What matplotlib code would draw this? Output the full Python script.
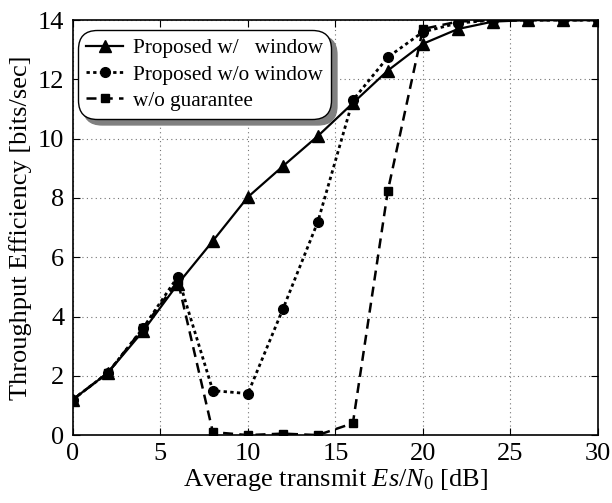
import matplotlib
matplotlib.use("Agg")
import matplotlib.pyplot as plt

snr = [0, 2, 4, 6, 8, 10, 12, 14, 16, 18, 20, 22, 24, 26, 28, 30]
with_window = [1.2, 2.1, 3.5, 5.1, 6.55, 8.03, 9.07, 10.09, 11.2, 12.3, 13.2, 13.7, 13.95, 14.0, 14.0, 14.0]
without_window = [1.2, 2.1, 3.6, 5.35, 1.5, 1.4, 4.25, 7.2, 11.3, 12.75, 13.6, 13.9, 14.0, 14.0, 14.0, 14.0]
no_guarantee = [1.2, 2.1, 3.6, 5.2, 0.1, 0.0, 0.05, 0.0, 0.4, 8.25, 13.7, 13.95, 14.0, 14.0, 14.0, 14.0]
labels = ["Proposed w/   window", "Proposed w/o window", "w/o guarantee"]
xticks = [0, 5, 10, 15, 20, 25, 30]
yticks = [0, 2, 4, 6, 8, 10, 12, 14]

plt.rcParams['font.family'] = ['Liberation Serif', 'DejaVu Serif']
plt.rcParams['mathtext.fontset'] = 'custom'
plt.rcParams['mathtext.rm'] = 'Liberation Serif'
plt.rcParams['mathtext.it'] = 'Liberation Serif:italic'

fig = plt.figure(figsize=(6.12, 5.03), dpi=100)
ax = fig.add_axes([0.119, 0.135, 0.858, 0.825])

ax.plot(snr, with_window, '-', color='black', lw=1.6, marker='^', ms=8.5, label=labels[0])
ax.plot(snr, without_window, color='black', lw=2.0, ls=(0, (1.2, 1.2)), marker='o', ms=7, label=labels[1])
ax.plot(snr, no_guarantee, color='black', lw=1.8, ls=(0, (4, 2.5)), marker='s', ms=6, label=labels[2])

ax.set_xlim(0, 30)
ax.set_ylim(0, 14)
ax.set_xticks(xticks)
ax.set_yticks(yticks)
ax.tick_params(direction='in', labelsize=19, length=5, top=True, right=True)
ax.tick_params(axis='x', pad=6)
ax.tick_params(axis='y', pad=6)
ax.grid(True, ls=(0, (1, 3)), color='0.45', lw=0.8)
for s in ax.spines.values():
    s.set_linewidth(1.2)

ax.set_xlabel(r"Average transmit $\mathit{Es}/\mathit{N}_{0}$ [dB]", fontsize=19, labelpad=1)
ax.set_ylabel("Throughput Efficiency [bits/sec]", fontsize=19, labelpad=4)

leg = ax.legend(loc='upper left', fontsize=15.3, fancybox=True,
                shadow={'color': '0.5', 'alpha': 1.0, 'ox': 4, 'oy': -4},
                handlelength=1.75, handletextpad=0.45, borderpad=0.3, labelspacing=0.3,
                borderaxespad=0, framealpha=1, edgecolor='black',
                bbox_to_anchor=(0.013, 0.971))
leg.get_frame().set_linewidth(1.0)
leg.get_frame().set_boxstyle('round,pad=0.1,rounding_size=0.9')

fig.savefig("out.png", dpi=100)
